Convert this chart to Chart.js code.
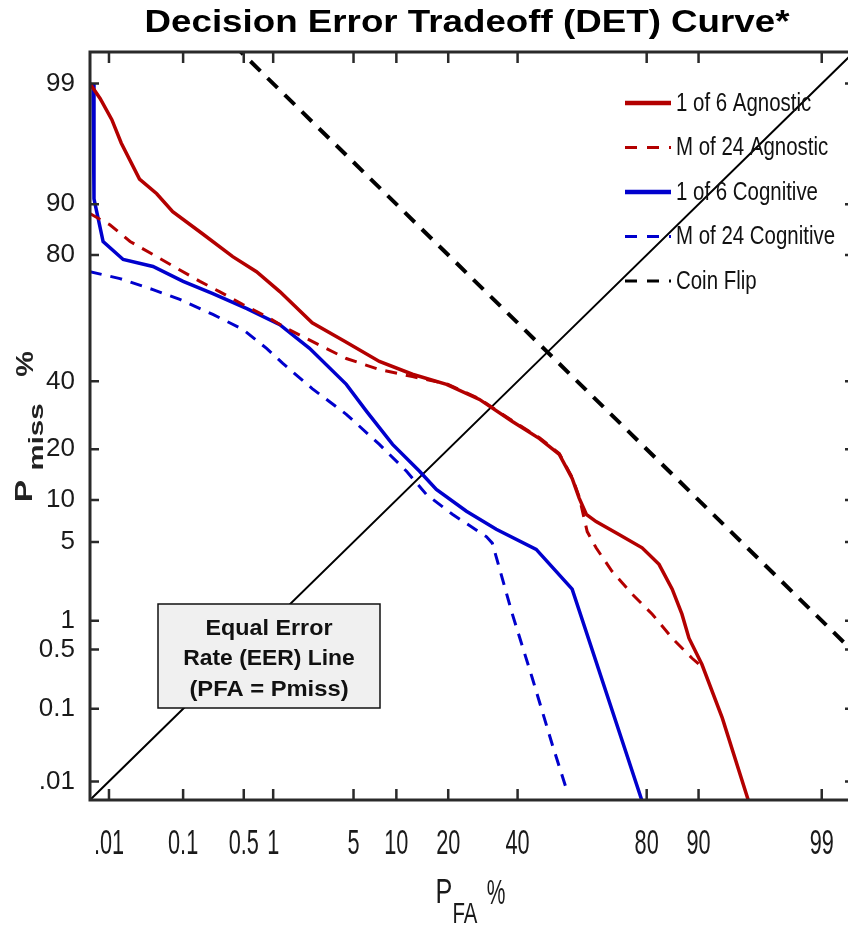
<!DOCTYPE html>
<html>
<head>
<meta charset="utf-8">
<title>DET Curve</title>
<script src="https://cdn.jsdelivr.net/npm/chart.js@4.4.1/dist/chart.umd.min.js"></script>
<style>
  html, body { margin: 0; padding: 0; background: #fff; overflow: hidden; }
  #wrap { position: relative; width: 858px; height: 927px; }
</style>
</head>
<body>
<div id="wrap"><canvas id="detChart" width="858" height="927"></canvas></div>
<script>
// tick positions in percent, same for both axes
var tickValues = [0.01, 0.1, 0.5, 1, 5, 10, 20, 40, 80, 90, 99];
var tickLabels = ['.01', '0.1', '0.5', '1', '5', '10', '20', '40', '80', '90', '99'];

// 1 of 6 Agnostic (PFA %, Pmiss %)
var agn6Fa   = [0.0052, 0.0074, 0.011, 0.015, 0.027, 0.046, 0.074, 0.17, 0.38, 0.68, 1.16, 2.3, 4.3, 7.7, 12.6, 19.6, 28.2, 38.3, 47.3, 54, 58.3, 60.6, 62.9, 66, 72.8, 78.9, 82.8, 85.5, 87.3, 88.5, 90.5, 93.1, 95.6];
var agn6Miss = [99, 98.6, 97.8, 96.5, 93.3, 91.5, 88.8, 84.8, 79.6, 75.7, 70, 60, 53.7, 46.8, 42.4, 39, 34.1, 27.4, 22.7, 18.8, 13.7, 10.3, 8, 7.1, 5.7, 4.5, 3.3, 2.0, 1.16, 0.66, 0.34, 0.076, 0.005];

// M of 24 Agnostic
var agn24Fa   = [0.0052, 0.0103, 0.02, 0.041, 0.084, 0.16, 0.27, 0.49, 0.86, 1.35, 2.3, 4.4, 7.7, 12.6, 19.6, 28.2, 38.3, 47.3, 54, 58.3, 60.6, 63.2, 66, 70.8, 76.4, 81.3, 85.5, 89, 90.1];
var agn24Miss = [88.5, 86.5, 83.1, 80.1, 76.6, 73, 70, 66, 62.1, 58.1, 53.7, 47.8, 44, 41.6, 39.2, 34.3, 27.6, 22.9, 19, 13.9, 10.5, 6, 4.5, 2.88, 1.8, 1.16, 0.66, 0.4, 0.34];

// 1 of 6 Cognitive
var cog6Fa   = [0.0058, 0.006, 0.0066, 0.0082, 0.016, 0.041, 0.1, 0.227, 0.54, 1.16, 2.18, 4.4, 6.25, 9.45, 13.9, 17.3, 24.6, 33.2, 46.2, 58.3, 78.9];
var cog6Miss = [99, 90.8, 88.8, 83.1, 78.9, 77.1, 73, 69.4, 64.7, 59.4, 51.3, 39, 30.4, 21.2, 15.1, 11.7, 8.4, 6.24, 4.37, 2.0, 0.005];

// M of 24 Cognitive
var cog24Fa   = [0.0052, 0.0144, 0.041, 0.091, 0.227, 0.49, 0.86, 1.24, 2.3, 4.4, 7.7, 11.6, 15.2, 21, 30.2, 32, 34.2, 38.3, 44.9, 51.6, 56.3];
var cog24Miss = [75.7, 73.8, 70.6, 67.6, 62.8, 57.8, 51.3, 46.1, 37.6, 29.5, 21.2, 15.1, 10.9, 8, 5.5, 4.9, 3.05, 1.16, 0.236, 0.034, 0.0079];

// reference lines
var coinFa   = [0.001, 50, 99.999];
var coinMiss = [99.999, 50, 0.001];
var eerFa    = [0.001, 50, 99.999];
var eerMiss  = [0.001, 50, 99.999];

var RED = '#b30000';
var BLUE = '#0000cd';
var SANS = '"Liberation Sans", Arial, sans-serif';

// inverse normal cdf (Acklam)
function probit(p) {
    var a = [-3.969683028665376e+01, 2.209460984245205e+02, -2.759285104469687e+02, 1.383577518672690e+02, -3.066479806614716e+01, 2.506628277459239e+00];
    var b = [-5.447609879822406e+01, 1.615858368580409e+02, -1.556989798598866e+02, 6.680131188771972e+01, -1.328068155288572e+01];
    var c = [-7.784894002430293e-03, -3.223964580411365e-01, -2.400758277161838e+00, -2.549732539343734e+00, 4.374664141464968e+00, 2.938163982698783e+00];
    var d = [7.784695709041462e-03, 3.224671290700398e-01, 2.445134137142996e+00, 3.754408661907416e+00];
    var q, r;
    if (p < 0.02425) {
        q = Math.sqrt(-2 * Math.log(p));
        return (((((c[0]*q+c[1])*q+c[2])*q+c[3])*q+c[4])*q+c[5]) / ((((d[0]*q+d[1])*q+d[2])*q+d[3])*q+1);
    }
    if (p > 1 - 0.02425) {
        q = Math.sqrt(-2 * Math.log(1 - p));
        return -(((((c[0]*q+c[1])*q+c[2])*q+c[3])*q+c[4])*q+c[5]) / ((((d[0]*q+d[1])*q+d[2])*q+d[3])*q+1);
    }
    q = p - 0.5;
    r = q * q;
    return (((((a[0]*r+a[1])*r+a[2])*r+a[3])*r+a[4])*r+a[5])*q / (((((b[0]*r+b[1])*r+b[2])*r+b[3])*r+b[4])*r+1);
}

let toPoints = (fa, miss) => fa.map((v, i) => ({ x: probit(v / 100), y: probit(miss[i] / 100) }));

// text squeezed or stretched horizontally around (x, y)
function scaledText(ctx, txt, x, y, sx, sy) {
    ctx.save();
    ctx.translate(x, y);
    ctx.scale(sx, sy || 1);
    ctx.fillText(txt, 0, 0);
    ctx.restore();
}

var decor = {
    id: 'decor',
    afterDatasetsDraw: function(chart) {
        var ctx = chart.ctx;
        ctx.save();
        // EER annotation box
        ctx.fillStyle = '#f0f0f0';
        ctx.fillRect(158, 604, 222, 104);
        ctx.strokeStyle = '#111';
        ctx.lineWidth = 1.5;
        ctx.strokeRect(158, 604, 222, 104);
        ctx.fillStyle = '#111';
        ctx.font = 'bold 22px ' + SANS;
        ctx.textAlign = 'center';
        ctx.textBaseline = 'middle';
        scaledText(ctx, 'Equal Error', 269, 629, 1.06);
        scaledText(ctx, 'Rate (EER) Line', 269, 659, 1.04);
        scaledText(ctx, '(PFA = Pmiss)', 269, 690, 1.08);

        // legend
        ctx.font = '25px ' + SANS;
        var squeeze = 159 / ctx.measureText('M of 24 Cognitive').width;
        chart.data.datasets.forEach(function(ds, i) {
            if (ds.noLegend) return;
            var y = 103 + i * 44.5;
            ctx.strokeStyle = ds.borderColor;
            ctx.lineWidth = ds.borderDash ? 3 : 4.5;
            ctx.setLineDash(ds.borderDash ? [12, 10] : []);
            ctx.beginPath();
            ctx.moveTo(625, y);
            ctx.lineTo(671, y);
            ctx.stroke();
            ctx.setLineDash([]);
            ctx.fillStyle = '#111';
            ctx.textAlign = 'left';
            scaledText(ctx, ds.label, 676, y + 1, squeeze);
        });
        ctx.restore();
    },
    afterDraw: function(chart) {
        var ctx = chart.ctx, a = chart.chartArea;
        var xs = chart.scales.x, ys = chart.scales.y;
        ctx.save();
        // frame with inward ticks
        ctx.strokeStyle = '#2a2a2a';
        ctx.lineWidth = 3;
        ctx.strokeRect(a.left, a.top, a.right - a.left, a.bottom - a.top);
        ctx.lineWidth = 2.5;
        ctx.beginPath();
        tickValues.forEach(function(v) {
            var px = xs.getPixelForValue(probit(v / 100));
            var py = ys.getPixelForValue(probit(v / 100));
            ctx.moveTo(px, a.bottom); ctx.lineTo(px, a.bottom - 11);
            ctx.moveTo(px, a.top); ctx.lineTo(px, a.top + 11);
            ctx.moveTo(a.left, py); ctx.lineTo(a.left + 9, py);
            ctx.moveTo(a.right, py); ctx.lineTo(a.right - 9, py);
        });
        ctx.stroke();

        // x tick labels (tall, narrow lettering)
        ctx.fillStyle = '#1a1a1a';
        ctx.textAlign = 'center';
        ctx.textBaseline = 'middle';
        ctx.font = '35px ' + SANS;
        xs.ticks.forEach(function(t, i) {
            scaledText(ctx, tickLabels[i], xs.getPixelForValue(t.value), 844, 0.62);
        });

        // x axis title
        ctx.font = '35px ' + SANS;
        scaledText(ctx, 'P', 444, 893, 0.72);
        ctx.font = '30px ' + SANS;
        scaledText(ctx, 'FA', 465, 915, 0.68);
        ctx.font = '35px ' + SANS;
        scaledText(ctx, '%', 496, 894, 0.6);

        // title
        ctx.fillStyle = '#000';
        ctx.font = 'bold 32px ' + SANS;
        var tw = ctx.measureText('Decision Error Tradeoff (DET) Curve*').width;
        scaledText(ctx, 'Decision Error Tradeoff (DET) Curve*', 467, 23, 645 / tw);

        // y axis title, rotated and stretched along the text
        ctx.fillStyle = '#222';
        ctx.textBaseline = 'alphabetic';
        ctx.rotate(-Math.PI / 2);
        ctx.font = 'bold 24px ' + SANS;
        scaledText(ctx, 'P', -491, 32, 1.4);
        ctx.font = 'bold 21px ' + SANS;
        scaledText(ctx, 'miss', -437, 43, 1.4);
        ctx.font = 'bold 24px ' + SANS;
        scaledText(ctx, '%', -364, 33, 1.2);
        ctx.restore();
    }
};

var ctxD = document.getElementById('detChart').getContext('2d');
var detChart = new Chart(ctxD, {
    type: 'line',
    data: {
        datasets: [
            { label: '1 of 6 Agnostic', data: toPoints(agn6Fa, agn6Miss), borderColor: RED, borderWidth: 3.5 },
            { label: 'M of 24 Agnostic', data: toPoints(agn24Fa, agn24Miss), borderColor: RED, borderWidth: 3, borderDash: [12, 9] },
            { label: '1 of 6 Cognitive', data: toPoints(cog6Fa, cog6Miss), borderColor: BLUE, borderWidth: 3.5 },
            { label: 'M of 24 Cognitive', data: toPoints(cog24Fa, cog24Miss), borderColor: BLUE, borderWidth: 3, borderDash: [12, 9] },
            { label: 'Coin Flip', data: toPoints(coinFa, coinMiss), borderColor: '#000', borderWidth: 4, borderDash: [14, 10] },
            { label: 'EER', data: toPoints(eerFa, eerMiss), borderColor: '#000', borderWidth: 2, noLegend: true }
        ]
    },
    options: {
        responsive: false,
        animation: false,
        events: [],
        layout: { padding: { top: 52, right: 4, left: 0, bottom: 0 } },
        elements: { point: { radius: 0 }, line: { tension: 0, fill: false } },
        plugins: { legend: { display: false }, title: { display: false }, tooltip: { enabled: false } },
        scales: {
            x: {
                type: 'linear', min: -3.88, max: 2.6,
                afterBuildTicks: function(scale) { scale.ticks = tickValues.map(v => ({ value: probit(v / 100) })); },
                afterFit: function(scale) { scale.height = 127; },
                grid: { display: false }, border: { display: false },
                ticks: { display: false, autoSkip: false, maxRotation: 0 }
            },
            y: {
                type: 'linear', min: -3.88, max: 2.6,
                afterBuildTicks: function(scale) { scale.ticks = tickValues.map(v => ({ value: probit(v / 100) })); },
                afterFit: function(scale) { scale.width = 90; },
                grid: { display: false }, border: { display: false },
                ticks: {
                    autoSkip: false, padding: 7, color: '#1a1a1a',
                    font: { family: SANS, size: 26 },
                    callback: function(val, i) { return tickLabels[i]; }
                }
            }
        }
    },
    plugins: [decor]
});
</script>
</body>
</html>
